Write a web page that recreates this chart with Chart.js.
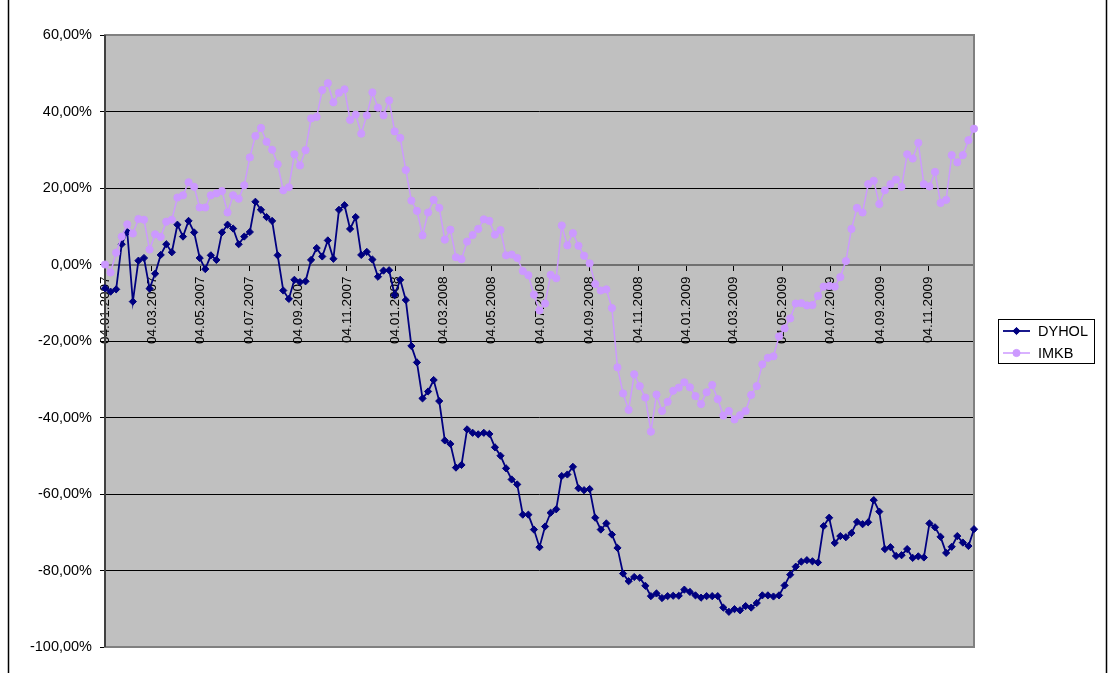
<!DOCTYPE html>
<html>
<head>
<meta charset="utf-8">
<script src="https://cdn.jsdelivr.net/npm/chart.js@4.4.1/dist/chart.umd.min.js"></script>
<style>
  html, body { margin: 0; padding: 0; background: #fff; }
  #wrap { position: relative; width: 1109px; height: 675px; }
</style>
</head>
<body>
<div id="wrap"><canvas id="myChart" width="1109" height="675"></canvas></div>
<script>
// weekly returns since the first date, in percent
const startDate = "04.01.2007";
const stepDays = 7;

const tickLabels = [
  "04.01.2007", "04.03.2007", "04.05.2007", "04.07.2007", "04.09.2007", "04.11.2007",
  "04.01.2008", "04.03.2008", "04.05.2008", "04.07.2008", "04.09.2008", "04.11.2008",
  "04.01.2009", "04.03.2009", "04.05.2009", "04.07.2009", "04.09.2009", "04.11.2009",
];

const seriesNames = ["DYHOL", "IMKB"];

const dyhol = [
  -6.2, -7.1, -6.5, 5.3, 8.5, -9.7, 1.0, 1.7, -6.3, -2.4,
  2.5, 5.3, 3.2, 10.4, 7.3, 11.4, 8.4, 1.7, -1.2, 2.4,
  1.2, 8.4, 10.4, 9.4, 5.3, 7.3, 8.5, 16.4, 14.3, 12.4,
  11.4, 2.4, -6.8, -9.0, -4.0, -4.6, -4.4, 1.2, 4.3, 2.1,
  6.3, 1.5, 14.3, 15.5, 9.3, 12.4, 2.5, 3.3, 1.3, -3.2,
  -1.6, -1.5, -8.0, -4.0, -9.3, -21.3, -25.6, -35.0, -33.2, -30.2,
  -35.7, -46.0, -46.9, -53.1, -52.4, -43.1, -44.0, -44.4, -44.0, -44.3,
  -47.8, -50.0, -53.3, -56.2, -57.5, -65.4, -65.4, -69.3, -73.9, -68.5,
  -64.9, -64.0, -55.3, -54.9, -52.9, -58.5, -59.0, -58.7, -66.2, -69.3,
  -67.7, -70.6, -74.1, -80.8, -82.8, -81.7, -81.9, -84.0, -86.7, -86.0,
  -87.2, -86.7, -86.6, -86.6, -85.0, -85.6, -86.5, -87.1, -86.7, -86.7,
  -86.7, -89.7, -90.8, -90.1, -90.4, -89.3, -89.7, -88.5, -86.5, -86.5,
  -86.8, -86.5, -83.9, -81.1, -79.0, -77.7, -77.3, -77.6, -77.9, -68.4,
  -66.2, -72.8, -71.0, -71.3, -70.2, -67.3, -67.9, -67.4, -61.6, -64.6,
  -74.4, -73.9, -76.2, -76.0, -74.4, -76.7, -76.3, -76.6, -67.7, -68.7,
  -71.2, -75.4, -73.8, -71.0, -72.7, -73.6, -69.2,
];

const imkb = [
  0.0, -2.1, 3.1, 7.3, 10.5, 8.1, 11.9, 11.7, 3.9, 7.9,
  7.2, 11.2, 11.7, 17.5, 18.1, 21.5, 20.3, 14.9, 14.9, 18.1,
  18.6, 19.2, 13.6, 18.1, 17.2, 20.7, 28.0, 33.6, 35.7, 32.1,
  30.0, 26.2, 19.4, 20.2, 28.8, 25.9, 29.9, 38.2, 38.6, 45.6,
  47.4, 42.4, 44.9, 45.8, 37.8, 39.2, 34.2, 39.0, 45.0, 41.0,
  39.0, 42.9, 34.8, 33.1, 24.7, 16.7, 14.0, 7.6, 13.6, 16.9,
  14.8, 6.5, 9.1, 1.9, 1.4, 6.0, 7.7, 9.3, 11.8, 11.4,
  7.8, 9.0, 2.4, 2.6, 1.7, -1.7, -2.8, -7.9, -12.0, -10.2,
  -2.7, -3.6, 10.2, 5.0, 8.2, 4.9, 2.3, 0.3, -5.1, -6.8,
  -6.5, -11.4, -26.9, -33.7, -38.0, -28.7, -31.8, -34.8, -43.7, -34.0,
  -38.3, -35.9, -33.0, -32.2, -30.8, -32.1, -34.4, -36.5, -33.4, -31.5,
  -35.2, -39.5, -38.3, -40.5, -39.4, -38.3, -34.1, -31.8, -26.1, -24.4,
  -24.0, -18.8, -16.7, -14.1, -10.2, -10.1, -10.7, -10.6, -8.2, -5.8,
  -5.6, -5.8, -3.3, 0.9, 9.3, 14.8, 13.6, 21.0, 21.9, 15.8,
  19.4, 21.0, 22.2, 20.3, 28.8, 27.7, 31.8, 21.0, 20.4, 24.2,
  16.1, 16.9, 28.6, 26.7, 28.6, 32.5, 35.5,
];

// days between "dd.mm.yyyy" and the first date
function dayOffset(s) {
  const p = s.split(".");
  const q = startDate.split(".");
  const a = Date.UTC(+p[2], +p[1] - 1, +p[0]);
  const b = Date.UTC(+q[2], +q[1] - 1, +q[0]);
  return Math.round((a - b) / 86400000);
}

const tickDays = tickLabels.map(dayOffset);
const toPoints = (arr) => arr.map((v, i) => ({ x: i * stepDays, y: v }));
const lastDay = (dyhol.length - 1) * stepDays;

const fontFamily = "'Liberation Sans', Arial, sans-serif";

// grey plot area with its frame
const plotBg = {
  id: "plotBg",
  beforeDraw(chart) {
    const { ctx, chartArea: a } = chart;
    ctx.save();
    ctx.fillStyle = "#C0C0C0";
    ctx.fillRect(a.left, a.top, a.right - a.left, a.bottom - a.top);
    ctx.restore();
  },
  beforeDatasetsDraw(chart) {
    const { ctx, chartArea: a } = chart;
    ctx.save();
    ctx.strokeStyle = "#808080";
    ctx.lineWidth = 2;
    ctx.strokeRect(a.left, a.top, a.right - a.left, a.bottom - a.top);
    ctx.strokeStyle = "#404040";
    ctx.beginPath();
    ctx.moveTo(a.left, a.top);
    ctx.lineTo(a.left, a.bottom);
    ctx.stroke();
    // outer frame
    ctx.strokeStyle = "#000";
    ctx.lineWidth = 1.5;
    ctx.beginPath();
    ctx.moveTo(8.5, 0);
    ctx.lineTo(8.5, 673);
    ctx.moveTo(1106.5, 0);
    ctx.lineTo(1106.5, 673);
    ctx.stroke();
    ctx.restore();
  },
};

// boxed legend on the right
const boxLegend = {
  id: "boxLegend",
  afterDraw(chart) {
    const { ctx } = chart;
    const x0 = 998, y0 = 319, w = 96, h = 44;
    ctx.save();
    ctx.fillStyle = "#fff";
    ctx.fillRect(x0, y0, w, h);
    ctx.strokeStyle = "#000";
    ctx.lineWidth = 1;
    ctx.strokeRect(x0 + 0.5, y0 + 0.5, w, h);
    ctx.font = "14.5px " + fontFamily;
    ctx.textBaseline = "middle";
    chart.data.datasets.forEach((ds, k) => {
      const y = y0 + 12 + k * 22;
      ctx.strokeStyle = ds.borderColor;
      ctx.lineWidth = ds.borderWidth;
      ctx.beginPath();
      ctx.moveTo(x0 + 5, y);
      ctx.lineTo(x0 + 32, y);
      ctx.stroke();
      ctx.fillStyle = ds.pointBackgroundColor;
      ctx.strokeStyle = ds.pointBorderColor;
      ctx.lineWidth = 1;
      Chart.helpers.drawPoint(ctx, {
        pointStyle: ds.pointStyle,
        radius: ds.pointRadius,
        borderWidth: 1,
      }, x0 + 18.5, y);
      ctx.fillStyle = "#000";
      ctx.fillText(ds.label, x0 + 40, y + 1);
    });
    ctx.restore();
  },
};

const ctx = document.getElementById("myChart").getContext("2d");
const myChart = new Chart(ctx, {
  type: "line",
  data: {
    datasets: [
      {
        label: seriesNames[0],
        data: toPoints(dyhol),
        borderColor: "#000080",
        backgroundColor: "#000080",
        pointBackgroundColor: "#000080",
        pointBorderColor: "#000080",
        borderWidth: 1.8,
        pointStyle: "rectRot",
        pointRadius: 3.6,
        pointBorderWidth: 1,
        tension: 0,
        clip: false,
        order: 1,
      },
      {
        label: seriesNames[1],
        data: toPoints(imkb),
        borderColor: "#CC99FF",
        backgroundColor: "#CC99FF",
        pointBackgroundColor: "#CC99FF",
        pointBorderColor: "#CC99FF",
        borderWidth: 1.5,
        pointStyle: "circle",
        pointRadius: 3.6,
        pointBorderWidth: 1,
        tension: 0,
        clip: false,
        order: 0,
      },
    ],
  },
  options: {
    responsive: false,
    animation: false,
    devicePixelRatio: 1,
    layout: { padding: { left: 0, right: 135, top: 35, bottom: 28 } },
    plugins: {
      legend: { display: false },
      tooltip: { enabled: false },
    },
    scales: {
      x: {
        type: "linear",
        position: { y: 0 },
        min: 0,
        max: lastDay,
        afterBuildTicks: (scale) => {
          scale.ticks = tickDays.map((d) => ({ value: d }));
        },
        ticks: {
          autoSkip: false,
          minRotation: 90,
          maxRotation: 90,
          padding: 7,
          color: "#000",
          font: { family: fontFamily, size: 13.5 },
          callback: (v) => tickLabels[tickDays.indexOf(v)],
        },
        grid: {
          drawOnChartArea: false,
          drawTicks: true,
          tickLength: 5,
          tickColor: "#000",
          tickWidth: 1,
        },
        border: { display: true, color: "#707070", width: 2 },
      },
      y: {
        min: -100,
        max: 60,
        afterFit: (scale) => {
          scale.width = 105;
        },
        ticks: {
          stepSize: 20,
          padding: 8,
          color: "#000",
          font: { family: fontFamily, size: 14.5 },
          callback: (v) => v.toFixed(2).replace(".", ",") + "%",
        },
        grid: {
          color: (c) => ([-80, -60, -40, -20, 20, 40].includes(c.tick.value) ? "#000" : "rgba(0,0,0,0)"),
          tickColor: "#000",
          tickLength: 5,
          lineWidth: 1,
        },
        border: { display: false },
      },
    },
  },
  plugins: [plotBg, boxLegend],
});
</script>
</body>
</html>
